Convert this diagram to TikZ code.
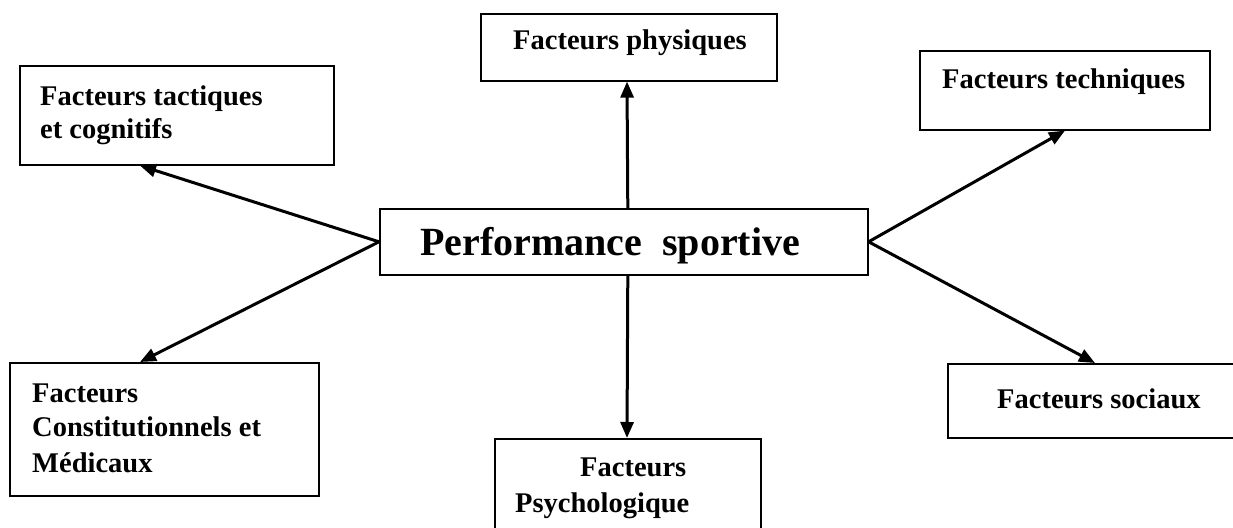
\documentclass[tikz,border=0pt]{standalone}
\usepackage{fontspec}
\setmainfont{Liberation Serif}
\usetikzlibrary{arrows.meta}
\begin{document}
\begin{tikzpicture}[x=1pt,y=-1pt,
  box/.style={draw, line width=1.6pt, inner sep=0pt, anchor=north west},
  lbl/.style={inner sep=0pt, anchor=base west, font=\bfseries\fontsize{28.5}{34}\selectfont},
  big/.style={inner sep=0pt, anchor=base west, font=\bfseries\fontsize{40}{48}\selectfont},
  conn/.style={line width=3pt, -{Triangle[length=16pt,width=13pt]}}]
\useasboundingbox (0,0) rectangle (1233,527);
\clip (0,0) rectangle (1233,527);
% boxes
\node[box, minimum width=314pt, minimum height=99pt] (tact) at (19,65) {};
\node[box, minimum width=296pt, minimum height=67pt] (phys) at (480,13) {};
\node[box, minimum width=290pt, minimum height=79pt] (tech) at (919,50) {};
\node[box, minimum width=488pt, minimum height=66pt] (perf) at (379,208) {};
\node[box, minimum width=309pt, minimum height=133pt] (const) at (9,362) {};
\node[box, minimum width=266pt, minimum height=120pt] (psych) at (494,438) {};
\node[box, minimum width=300pt, minimum height=74pt] (soc) at (947,363) {};
% labels
\node[lbl] (t1) at (40,105) {Facteurs tactiques};
\node[lbl] (t2) at (40,138) {et cognitifs};
\node[lbl] (p1) at (513,50) {Facteurs physiques};
\node[lbl] (e1) at (942,88) {Facteurs techniques};
\node[big] (c1) at (420,255) {Performance\ \ sportive};
\node[lbl] (k1) at (32,402) {Facteurs};
\node[lbl] (k2) at (32,436) {Constitutionnels et};
\node[lbl] (k3) at (32,472) {Médicaux};
\node[lbl] (s1) at (580,476) {Facteurs};
\node[lbl] (s2) at (515,512) {Psychologique};
\node[lbl] (o1) at (997,408) {Facteurs sociaux};
% connectors
\draw[conn] (perf.west) -- ([xshift=121pt]tact.south west);
\draw[conn] (perf.west) -- ([xshift=131pt]const.north west);
\draw[conn] ([xshift=4pt]perf.north) -- ([xshift=147pt]phys.south west);
\draw[conn] ([xshift=4pt]perf.south) -- ([xshift=133pt]psych.north west);
\draw[conn] (perf.east) -- ([xshift=146pt]tech.south west);
\draw[conn] (perf.east) -- ([xshift=148pt]soc.north west);
\end{tikzpicture}
\end{document}
